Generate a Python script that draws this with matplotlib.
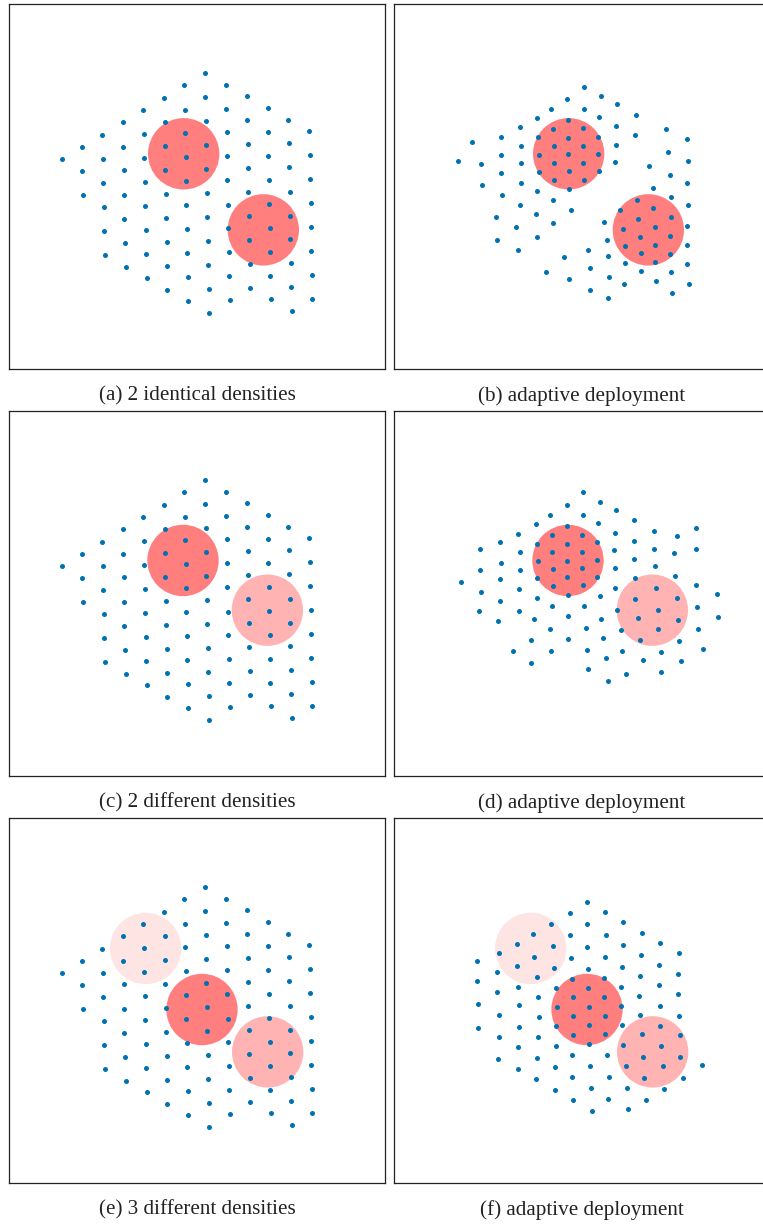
import numpy as np
import matplotlib.pyplot as plt
from matplotlib.patches import Circle

plt.rcParams['font.family'] = ['Liberation Serif', 'DejaVu Serif']

# field size (same for every panel)
FIELD_W, FIELD_H = 1128, 1092

# initial hexagonal deployment, shared by (a), (c), (e)
init_pos = [
    (158, 628),
    (219, 663), (219, 592), (221, 520),
    (280, 701), (281, 629), (283, 557), (284, 485), (284, 413), (287, 341),
    (342, 738), (343, 665), (344, 594), (346, 522), (346, 450), (348, 378), (351, 306),
    (403, 774), (405, 702), (406, 631), (407, 559), (408, 488), (410, 416), (411, 344), (413, 272),
    (465, 811), (467, 739), (468, 668), (469, 596), (470, 524), (471, 453), (473, 381), (473, 309),
    (475, 237),
    (526, 849), (528, 776), (529, 705), (530, 633), (531, 561), (532, 490), (533, 418), (534, 346),
    (536, 275), (537, 203),
    (588, 886), (589, 814), (590, 742), (591, 670), (592, 598), (593, 526), (595, 455), (596, 383),
    (598, 312), (599, 240), (601, 168),
    (650, 851), (652, 779), (653, 708), (654, 636), (655, 564), (656, 492), (657, 421), (659, 349),
    (660, 277), (662, 206),
    (713, 816), (714, 744), (716, 673), (717, 601), (718, 529), (719, 458), (720, 386), (722, 314),
    (723, 242),
    (776, 781), (777, 709), (778, 638), (779, 566), (781, 494), (782, 423), (783, 351), (784, 279),
    (785, 208),
    (838, 746), (839, 675), (841, 603), (842, 531), (843, 459), (844, 388), (845, 316), (847, 244),
    (848, 173),
    (901, 711), (902, 639), (903, 568), (905, 496), (906, 425), (907, 353), (908, 281), (909, 209),
]

# adaptive deployment, 2 identical densities
adapt_b = [
    (571, 845), (621, 816), (519, 809), (668, 793), (471, 777), (570, 779), (725, 761),
    (428, 751), (615, 754), (521, 746),
    (378, 724), (477, 719), (566, 720), (666, 726), (815, 718),
    (321, 694), (433, 693), (522, 692), (613, 695), (724, 699), (878, 688),
    (233, 679), (380, 666), (479, 667), (566, 668), (665, 671), (821, 649),
    (321, 640), (434, 641), (523, 642), (612, 643),
    (191, 621), (261, 613), (381, 615), (480, 616), (567, 617), (662, 619), (881, 621),
    (766, 608), (321, 585), (434, 588), (524, 591), (615, 592), (828, 581),
    (263, 551), (380, 555), (480, 564), (569, 566), (880, 555),
    (525, 538), (428, 533), (777, 541),
    (323, 521), (831, 514), (728, 507), (476, 505), (378, 491), (883, 490),
    (777, 482), (679, 477), (532, 475), (425, 465), (307, 456), (831, 454),
    (731, 450), (631, 441), (478, 438), (880, 429), (782, 426), (367, 425), (687, 418),
    (828, 399), (429, 395), (739, 395), (640, 386), (310, 387),
    (879, 372), (783, 371), (693, 369), (371, 356), (583, 356),
    (829, 345), (740, 346), (643, 338), (510, 336),
    (784, 321), (692, 316), (880, 315), (588, 301), (740, 293), (457, 291), (831, 290),
    (645, 275), (524, 270), (786, 262), (691, 254), (886, 254),
    (588, 237), (834, 226), (641, 211),
]

# adaptive deployment, 2 different densities
adapt_d = [
    (566, 849), (618, 820), (518, 811), (665, 795), (468, 780), (566, 782), (720, 765),
    (425, 754), (612, 756), (518, 749),
    (373, 725), (474, 721), (563, 722), (664, 728), (781, 734), (906, 743), (850, 719),
    (319, 700), (428, 695), (519, 695), (609, 699), (720, 702),
    (259, 679), (377, 669), (475, 669), (563, 670), (660, 676), (780, 679), (841, 666), (905, 678),
    (321, 638), (431, 643), (519, 644), (609, 647), (720, 649),
    (258, 617), (377, 617), (476, 619), (564, 621), (662, 623), (783, 627),
    (843, 598), (723, 593), (318, 588), (430, 592), (520, 594), (610, 594),
    (201, 579), (376, 560), (476, 568), (566, 570), (664, 562), (785, 562), (905, 570),
    (260, 551), (968, 544),
    (429, 532), (521, 541), (619, 538), (724, 529), (848, 534), (319, 525),
    (474, 508), (571, 510), (910, 506),
    (254, 494), (375, 494), (670, 498), (792, 497),
    (421, 471), (522, 478), (622, 471), (732, 474), (853, 466), (971, 475), (313, 464),
    (469, 441), (577, 444), (680, 436), (793, 440), (911, 440),
    (411, 407), (522, 411), (626, 412), (739, 406), (856, 405),
    (356, 373), (471, 375), (578, 378), (684, 374), (800, 370), (926, 379),
    (410, 337), (637, 354), (747, 346), (860, 343),
    (583, 321), (697, 306), (800, 310), (642, 284),
]

# adaptive deployment, 3 different densities
adapt_f = [
    (578, 841), (529, 809), (634, 810), (471, 776), (579, 774), (687, 781),
    (418, 744), (527, 741), (635, 743), (745, 748),
    (370, 715), (478, 710), (580, 707), (688, 713), (798, 719),
    (314, 689), (421, 677), (531, 674), (633, 675), (740, 683), (856, 687), (248, 665),
    (308, 632), (370, 650), (481, 644), (581, 641), (684, 647), (796, 653),
    (429, 617), (535, 610), (631, 612), (739, 618), (853, 626), (248, 604),
    (372, 586), (485, 583), (583, 583), (682, 586), (794, 593),
    (308, 571), (432, 556), (536, 555), (631, 556), (736, 560), (853, 566),
    (252, 536), (376, 532), (488, 526), (584, 528), (680, 530), (797, 530),
    (315, 503), (434, 498), (537, 499), (633, 501), (737, 503), (856, 501),
    (253, 463), (374, 467), (487, 469), (586, 472), (684, 472), (798, 471),
    (316, 436), (433, 437), (536, 443), (633, 445), (743, 445), (857, 442),
    (373, 407), (487, 410), (585, 416), (688, 413), (801, 410),
    (535, 383), (638, 384), (746, 378), (859, 377), (312, 372), (430, 375),
    (923, 353), (587, 351), (695, 351), (807, 351), (482, 346), (371, 341),
    (534, 316), (646, 318), (751, 315), (866, 313), (426, 311),
    (483, 279), (591, 284), (699, 285), (811, 281),
    (536, 249), (643, 251), (757, 248), (594, 216), (702, 220),
]

# density hot spots: (x, y, level)  level 0 = high, 1 = medium, 2 = low
spots_same = [(524, 644, 0), (763, 416, 0)]
spots_diff = [(522, 645, 0), (775, 496, 1)]
spots_three = [(410, 702, 2), (579, 519, 0), (776, 392, 1)]
spot_radius = 107
level_colors = ['#ff7f7f', '#ffb3b3', '#ffe4e4']

captions = ['(a) 2 identical densities', '(b) adaptive deployment',
            '(c) 2 different densities', '(d) adaptive deployment',
            '(e) 3 different densities', '(f) adaptive deployment']

panels = [(init_pos, spots_same), (adapt_b, spots_same),
          (init_pos, spots_diff), (adapt_d, spots_diff),
          (init_pos, spots_three), (adapt_f, spots_three)]


W, H = 763, 1224
fig = plt.figure(figsize=(W / 100, H / 100), dpi=100)

box_w, box_h = 376, 364.4
lefts = [9, 394]
row_bottoms = [368.7, 775.7, 1182.7]
caption_y = [396, 803, 1210]

for i, ((pos, spots), cap) in enumerate(zip(panels, captions)):
    r, c = divmod(i, 2)
    ax = fig.add_axes([lefts[c] / W, 1 - row_bottoms[r] / H, box_w / W, box_h / H])
    for (cx, cy, lvl) in spots:
        ax.add_patch(Circle((cx, cy), spot_radius, facecolor=level_colors[lvl],
                            edgecolor='none', zorder=1))
    pts = np.array(pos)
    ax.scatter(pts[:, 0], pts[:, 1], s=13, color='#0072b2', linewidths=0, zorder=2)
    ax.set_xlim(0, FIELD_W)
    ax.set_ylim(0, FIELD_H)
    ax.set_xticks([])
    ax.set_yticks([])
    for sp in ax.spines.values():
        sp.set_linewidth(0.9)
        sp.set_color('#222222')
    fig.text((lefts[c] + box_w / 2) / W, 1 - caption_y[r] / H, cap,
             ha='center', va='center', fontsize=15.2, color='#222222')

fig.savefig('out.png', dpi=100)
